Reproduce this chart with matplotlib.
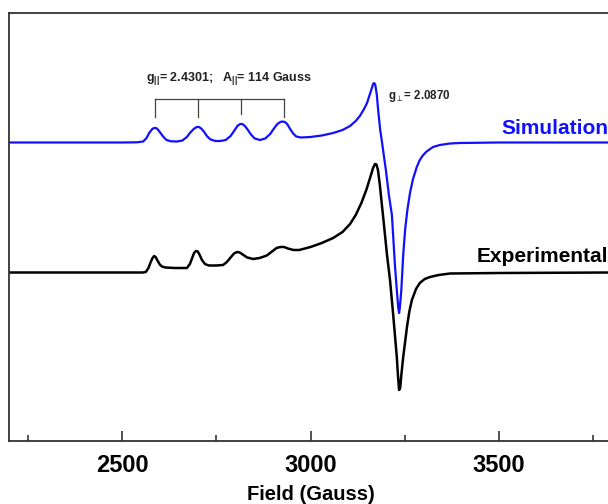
import matplotlib
matplotlib.use("Agg")
import matplotlib.pyplot as plt
from matplotlib.ticker import MultipleLocator

plt.rcParams['font.family'] = ['Liberation Sans', 'DejaVu Sans']
plt.rcParams['mathtext.fontset'] = 'custom'
plt.rcParams['mathtext.rm'] = 'Liberation Sans:bold'
plt.rcParams['mathtext.bf'] = 'Liberation Sans:bold'
plt.rcParams['mathtext.it'] = 'Liberation Sans:bold'
plt.rcParams['mathtext.fallback'] = 'stixsans'

# ---- data ----
sim_field = [2200, 2500, 2540, 2556, 2565, 2572, 2580, 2585, 2590, 2595, 2602, 2610, 2618, 2630,
             2646, 2660, 2672, 2680, 2690, 2698, 2704, 2710, 2718, 2726, 2735, 2748, 2760, 2775,
             2788, 2798, 2806, 2813, 2819, 2826, 2834, 2842, 2852, 2866, 2880, 2893, 2903, 2912,
             2920, 2926, 2932, 2938, 2946, 2954, 2962, 2975, 3000, 3030, 3060, 3085, 3105, 3120,
             3131, 3142, 3150, 3156, 3162, 3166, 3169, 3172, 3176, 3180, 3185, 3190, 3200, 3208,
             3216, 3224, 3230, 3233, 3235, 3237, 3241, 3246, 3251, 3257, 3264, 3272, 3282, 3290,
             3298, 3308, 3325, 3343, 3370, 3396, 3500, 3800]
sim_int = [0, 0, 0.2, 1, 4.5, 9.5, 13.5, 14.5, 14.5, 13, 9.5, 5.5, 2.5, 1.2,
           1, 2, 5.5, 9.5, 13.5, 15.5, 15.5, 14, 10.5, 6, 3, 1.5, 1.5, 2.5,
           6.5, 12, 16.5, 18.5, 18.5, 16.5, 12.5, 8, 4, 2.5, 4, 8.5, 14, 18.5,
           20.5, 21, 20.5, 18.5, 13.5, 9, 6, 5, 5.5, 7, 9.5, 12.5, 16.5, 21.5,
           26.5, 33.5, 39.5, 46.5, 53.5, 58.5, 59.5, 57.5, 47.5, 30.5, 12.5, -0.5, -27.5, -52.5,
           -72.5, -122.5, -152.5, -165.5, -170.5, -165.5, -147.5, -112.5, -87.5, -67.5, -50.5, -36.5, -24.5, -17.5,
           -13, -9, -4.5, -2.5, -1, -0.5, 0, 0]

exp_field = [2200, 2555, 2563, 2570, 2576, 2581, 2585, 2589, 2594, 2600, 2606, 2615, 2640, 2672,
             2680, 2686, 2691, 2696, 2701, 2706, 2712, 2720, 2730, 2750, 2768, 2778, 2788, 2797,
             2805, 2812, 2820, 2832, 2848, 2865, 2884, 2898, 2910, 2920, 2930, 2940, 2955, 2970,
             2985, 3000, 3030, 3060, 3085, 3105, 3120, 3135, 3148, 3158, 3166, 3171, 3175, 3179,
             3184, 3190, 3195, 3203, 3211, 3219, 3229, 3232, 3235, 3238, 3241, 3246, 3256, 3262,
             3269, 3280, 3290, 3303, 3317, 3340, 3370, 3500, 3800]
exp_int = [0, 0, 0.5, 4.5, 10.5, 14.5, 16.5, 15.5, 12, 8, 6, 5, 4.5, 4.5,
           8.5, 14.5, 19.5, 21.5, 21, 17.5, 12.5, 8.5, 7, 7, 7.5, 10.5, 15, 19,
           20.5, 20, 18, 15, 13.5, 14.5, 17, 21, 24.5, 25.5, 25.5, 24, 22.5, 22.5,
           24, 25.5, 29.5, 34.5, 40.5, 48.5, 57.5, 69.5, 82.5, 94.5, 104.5, 108.5, 108, 102.5,
           87.5, 65.5, 47.5, 17.5, -7.5, -40.5, -84.5, -102.5, -117.5, -115.5, -102.5, -84.5, -54.5, -39.5,
           -27.5, -16.5, -10.5, -6.5, -4.5, -2.5, -1, -0.5, 0]

sim_offset = 298.5
exp_offset = 168.5

hf_fields = [2588, 2702, 2816, 2930]
hf_bottoms = [324, 324, 327, 324]
bracket_level = 342

xticks_major = [2500, 3000, 3500]

# ---- figure ----
fig = plt.figure(figsize=(6.08, 5.04), dpi=100)
ax = fig.add_axes([9/608, 1-441/504, (612-9)/608, (441-12.7)/504])

ax.plot(sim_field, [v + sim_offset for v in sim_int], color='#1010ff', lw=1.6,
        solid_joinstyle='round')
ax.plot(exp_field, [v + exp_offset for v in exp_int], color='black', lw=1.8,
        solid_joinstyle='round')

# bracket
ax.plot([hf_fields[0], hf_fields[-1]], [bracket_level, bracket_level], color='#444444', lw=0.9)
for f, b in zip(hf_fields, hf_bottoms):
    ax.plot([f, f], [bracket_level, b], color='#444444', lw=0.9)

ax.text(2564, 360, r'g$_{||}$= 2.4301;   A$_{||}$= 114 Gauss', fontsize=9, fontweight='bold',
        color='#222222', ha='left', va='baseline')
ax.text(3206, 342, r'g$_{\bot}$= 2.0870', fontsize=8.3, fontweight='bold',
        color='#222222', ha='left', va='baseline')

ax.text(3790, 313, 'Simulation', color='#1010ff', fontsize=15, fontweight='bold',
        ha='right', va='center')
ax.text(3790, 184, 'Experimental', color='black', fontsize=15, fontweight='bold',
        ha='right', va='center')

ax.set_xlim(2200, 3800)
ax.set_ylim(0, 428.3)
ax.set_xticks(xticks_major)
ax.xaxis.set_minor_locator(MultipleLocator(250))
ax.set_yticks([])
ax.tick_params(axis='x', which='major', direction='in', length=7, width=1.2, color='#333333',
               labelsize=17, pad=9)
ax.tick_params(axis='x', which='minor', direction='in', length=4, width=1.2, color='#333333')
for lab in ax.get_xticklabels():
    lab.set_fontweight('bold')
for sp in ax.spines.values():
    sp.set_color('#333333')
    sp.set_linewidth(1.3)

ax.set_xlabel('Field (Gauss)', fontsize=14.5, fontweight='bold', labelpad=6)

fig.savefig('out.png', dpi=100)
